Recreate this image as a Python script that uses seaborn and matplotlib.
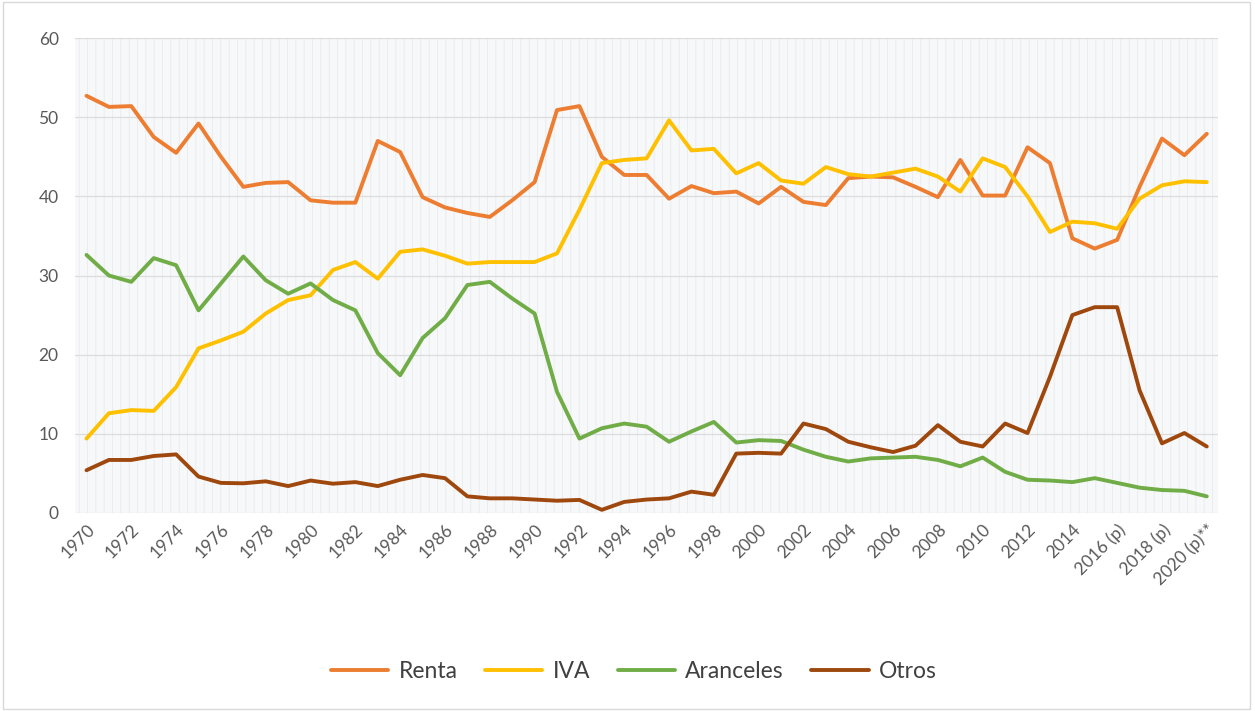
import pandas as pd
import matplotlib
matplotlib.use("Agg")
import matplotlib.pyplot as plt
import matplotlib.patches as mpatches
import seaborn as sns

# Years shown on the x axis
years = list(range(1970, 2021))
tick_labels = ["1970", "1972", "1974", "1976", "1978", "1980", "1982", "1984",
               "1986", "1988", "1990", "1992", "1994", "1996", "1998", "2000",
               "2002", "2004", "2006", "2008", "2010", "2012", "2014",
               "2016 (p)", "2018 (p)", "2020 (p)**"]

# Shares (%)
renta = [52.7, 51.3, 51.4, 47.5, 45.5, 49.2, 45.0, 41.2, 41.7, 41.8,
         39.5, 39.2, 39.2, 47.0, 45.6, 39.9, 38.6, 37.9, 37.4, 39.5,
         41.8, 50.9, 51.4, 45.0, 42.7, 42.7, 39.7, 41.3, 40.4, 40.6,
         39.1, 41.2, 39.3, 38.9, 42.3, 42.5, 42.4, 41.2, 39.9, 44.6,
         40.1, 40.1, 46.2, 44.2, 34.7, 33.4, 34.5, 41.2, 47.3, 45.2,
         47.9]
iva = [9.4, 12.6, 13.0, 12.9, 15.9, 20.8, 21.8, 22.9, 25.2, 26.9,
       27.5, 30.7, 31.7, 29.6, 33.0, 33.3, 32.5, 31.5, 31.7, 31.7,
       31.7, 32.8, 38.3, 44.2, 44.6, 44.8, 49.6, 45.8, 46.0, 42.9,
       44.2, 42.0, 41.6, 43.7, 42.8, 42.5, 43.0, 43.5, 42.5, 40.6,
       44.8, 43.7, 40.0, 35.5, 36.8, 36.6, 35.9, 39.7, 41.4, 41.9,
       41.8]
aranceles = [32.6, 30.0, 29.2, 32.2, 31.3, 25.6, 29.0, 32.4, 29.4, 27.7,
             29.0, 26.9, 25.6, 20.2, 17.4, 22.1, 24.6, 28.8, 29.2, 27.1,
             25.2, 15.3, 9.4, 10.7, 11.3, 10.9, 9.0, 10.3, 11.5, 8.9,
             9.2, 9.1, 8.0, 7.1, 6.5, 6.9, 7.0, 7.1, 6.7, 5.9,
             7.0, 5.2, 4.2, 4.1, 3.9, 4.4, 3.8, 3.2, 2.9, 2.8,
             2.1]
otros = [5.4, 6.7, 6.7, 7.2, 7.4, 4.6, 3.8, 3.75, 4.0, 3.4,
         4.1, 3.7, 3.9, 3.4, 4.2, 4.8, 4.4, 2.1, 1.85, 1.85,
         1.7, 1.55, 1.65, 0.4, 1.4, 1.7, 1.85, 2.7, 2.3, 7.5,
         7.6, 7.5, 11.3, 10.6, 9.0, 8.3, 7.7, 8.5, 11.1, 9.0,
         8.4, 11.3, 10.1, 17.2, 25.0, 26.0, 26.0, 15.5, 8.8, 10.1,
         8.4]

series = {"Renta": renta, "IVA": iva, "Aranceles": aranceles, "Otros": otros}
colors = {"Renta": "#ED7D31", "IVA": "#FFC000", "Aranceles": "#70AD47", "Otros": "#9E480E"}

# long format for seaborn
rows = []
for name, vals in series.items():
    for i, v in enumerate(vals):
        rows.append({"pos": i, "anio": years[i], "valor": v, "serie": name})
df = pd.DataFrame(rows)

sns.set_theme(style="white")
plt.rcParams["font.family"] = ["Lato", "DejaVu Sans"]
plt.rcParams["hatch.linewidth"] = 0.5

fig = plt.figure(figsize=(12.55, 7.11), dpi=100)
ax = fig.add_axes([0.06, 0.2785, 0.9105, 0.668])

# patterned plot-area fill like the original
ax.set_facecolor("#f7f8fa")
ax.add_patch(mpatches.Rectangle((0, 0), 1, 1, transform=ax.transAxes,
                                facecolor="none", edgecolor="#e6e7e9",
                                hatch="||", linewidth=0, zorder=0))

sns.lineplot(data=df, x="pos", y="valor", hue="serie", palette=colors,
             linewidth=2.8, ax=ax, zorder=3)

ax.set_xlim(-0.5, 50.5)
ax.set_ylim(0, 60)
ax.set_yticks(range(0, 61, 10))
ax.yaxis.grid(True, color="#dcdcdc", linewidth=0.9)
ax.xaxis.grid(False)
ax.set_axisbelow(True)
for s in ax.spines.values():
    s.set_visible(False)

ax.set_xticks(range(0, len(years), 2))
ax.set_xticklabels(tick_labels, rotation=45, ha="right", rotation_mode="anchor")
ax.tick_params(axis="both", length=0, labelsize=12.5, colors="#595959")
ax.tick_params(axis="x", pad=6)
ax.tick_params(axis="y", pad=12)
ax.set_xlabel("")
ax.set_ylabel("")

handles, labels = ax.get_legend_handles_labels()
ax.legend_.remove()
fig.legend(handles, labels, loc="center", bbox_to_anchor=(0.505, 0.055), ncol=4,
           frameon=False, fontsize=16.5, handlelength=2.5, columnspacing=1.2,
           handletextpad=0.45, labelcolor="#404040")

# thin chart border
fig.patches.append(mpatches.Rectangle((0.002, 0.003), 0.994, 0.994, transform=fig.transFigure,
                                      facecolor="none", edgecolor="#d9d9d9", linewidth=1))

fig.savefig("out.png", dpi=100)
